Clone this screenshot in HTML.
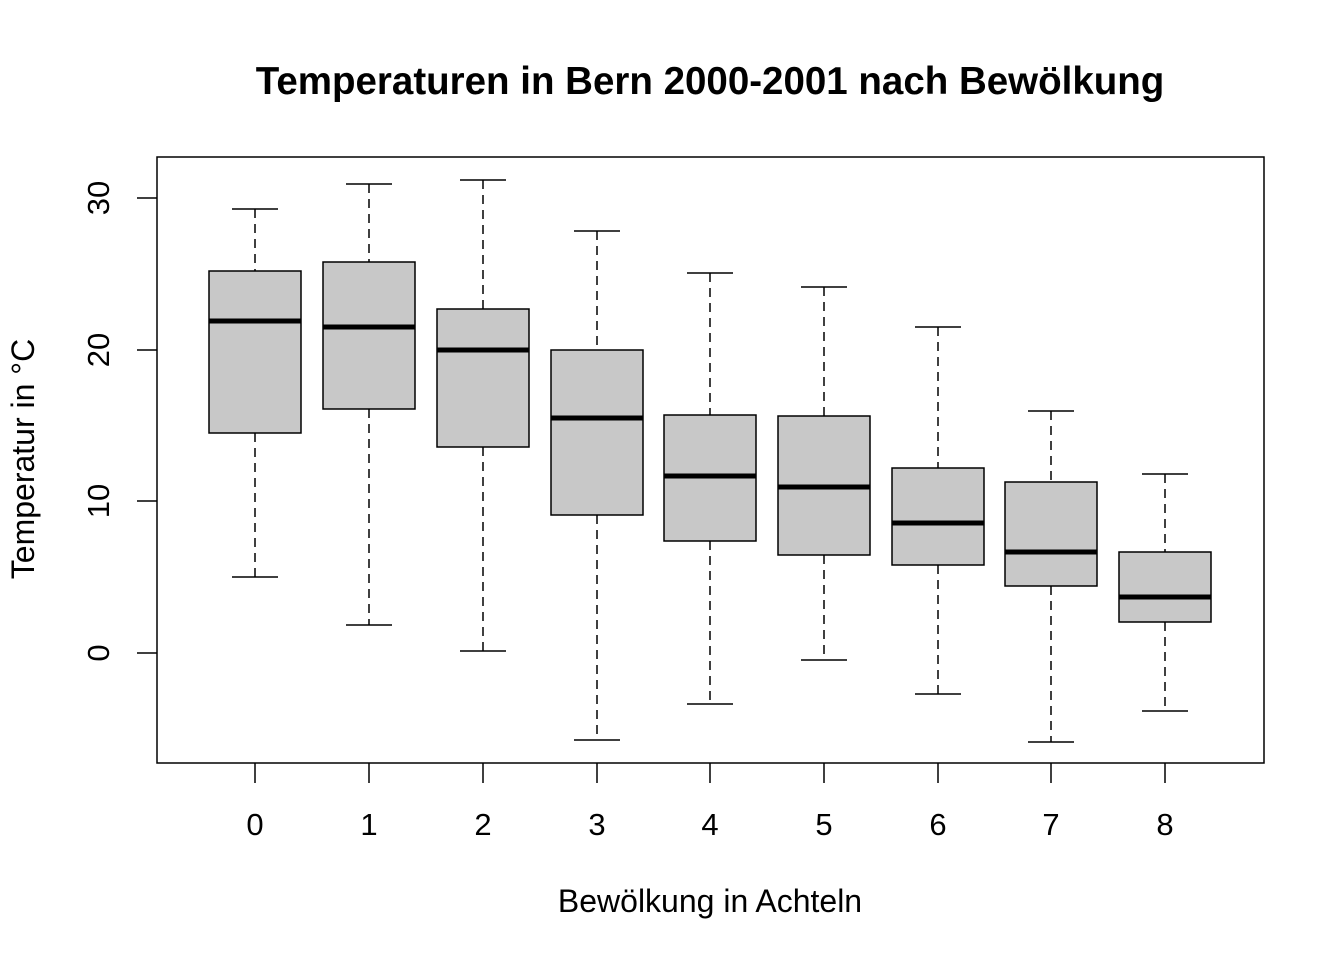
<!DOCTYPE html>
<html><head><meta charset="utf-8"><style>html,body{margin:0;padding:0;background:#fff}svg{display:block}</style></head>
<body>
<svg width="1344" height="960" xmlns="http://www.w3.org/2000/svg" font-family="Liberation Sans, Arial, sans-serif">
<rect width="1344" height="960" fill="#fff"/>
<text x="710" y="94" text-anchor="middle" font-size="38.5" font-weight="bold">Temperaturen in Bern 2000-2001 nach Bewölkung</text>
<rect x="157" y="157" width="1107" height="606" fill="none" stroke="#000" stroke-width="1.5"/>
<g stroke="#000" stroke-width="1.5">
<line x1="137" y1="198" x2="157" y2="198"/>
<line x1="137" y1="350" x2="157" y2="350"/>
<line x1="137" y1="501" x2="157" y2="501"/>
<line x1="137" y1="653" x2="157" y2="653"/>
<line x1="255" y1="763" x2="255" y2="783"/>
<line x1="369" y1="763" x2="369" y2="783"/>
<line x1="483" y1="763" x2="483" y2="783"/>
<line x1="597" y1="763" x2="597" y2="783"/>
<line x1="710" y1="763" x2="710" y2="783"/>
<line x1="824" y1="763" x2="824" y2="783"/>
<line x1="938" y1="763" x2="938" y2="783"/>
<line x1="1051" y1="763" x2="1051" y2="783"/>
<line x1="1165" y1="763" x2="1165" y2="783"/>
</g>
<g font-size="31" text-anchor="middle">
<text transform="translate(109,198) rotate(-90)">30</text>
<text transform="translate(109,350) rotate(-90)">20</text>
<text transform="translate(109,501) rotate(-90)">10</text>
<text transform="translate(109,653) rotate(-90)">0</text>
<text x="255" y="835">0</text><text x="369" y="835">1</text><text x="483" y="835">2</text>
<text x="597" y="835">3</text><text x="710" y="835">4</text><text x="824" y="835">5</text>
<text x="938" y="835">6</text><text x="1051" y="835">7</text><text x="1165" y="835">8</text>
</g>
<g font-size="32" text-anchor="middle">
<text transform="translate(34,459) rotate(-90)">Temperatur in °C</text>
<text x="710" y="912">Bewölkung in Achteln</text>
</g>
<g stroke="#000" stroke-width="1.5">
<g stroke-dasharray="9,6">
<line x1="255" y1="209" x2="255" y2="271"/><line x1="255" y1="433" x2="255" y2="577"/>
<line x1="369" y1="184" x2="369" y2="262"/><line x1="369" y1="409" x2="369" y2="625"/>
<line x1="483" y1="180" x2="483" y2="309"/><line x1="483" y1="447" x2="483" y2="651"/>
<line x1="597" y1="231" x2="597" y2="350"/><line x1="597" y1="515" x2="597" y2="740"/>
<line x1="710" y1="273" x2="710" y2="415"/><line x1="710" y1="541" x2="710" y2="704"/>
<line x1="824" y1="287" x2="824" y2="416"/><line x1="824" y1="555" x2="824" y2="660"/>
<line x1="938" y1="327" x2="938" y2="468"/><line x1="938" y1="565" x2="938" y2="694"/>
<line x1="1051" y1="411" x2="1051" y2="482"/><line x1="1051" y1="586" x2="1051" y2="742"/>
<line x1="1165" y1="474" x2="1165" y2="552"/><line x1="1165" y1="622" x2="1165" y2="711"/>
</g>
<line x1="232" y1="209" x2="278" y2="209"/><line x1="232" y1="577" x2="278" y2="577"/>
<line x1="346" y1="184" x2="392" y2="184"/><line x1="346" y1="625" x2="392" y2="625"/>
<line x1="460" y1="180" x2="506" y2="180"/><line x1="460" y1="651" x2="506" y2="651"/>
<line x1="574" y1="231" x2="620" y2="231"/><line x1="574" y1="740" x2="620" y2="740"/>
<line x1="687" y1="273" x2="733" y2="273"/><line x1="687" y1="704" x2="733" y2="704"/>
<line x1="801" y1="287" x2="847" y2="287"/><line x1="801" y1="660" x2="847" y2="660"/>
<line x1="915" y1="327" x2="961" y2="327"/><line x1="915" y1="694" x2="961" y2="694"/>
<line x1="1028" y1="411" x2="1074" y2="411"/><line x1="1028" y1="742" x2="1074" y2="742"/>
<line x1="1142" y1="474" x2="1188" y2="474"/><line x1="1142" y1="711" x2="1188" y2="711"/>
<g fill="#c8c8c8">
<rect x="209" y="271" width="92" height="162"/>
<rect x="323" y="262" width="92" height="147"/>
<rect x="437" y="309" width="92" height="138"/>
<rect x="551" y="350" width="92" height="165"/>
<rect x="664" y="415" width="92" height="126"/>
<rect x="778" y="416" width="92" height="139"/>
<rect x="892" y="468" width="92" height="97"/>
<rect x="1005" y="482" width="92" height="104"/>
<rect x="1119" y="552" width="92" height="70"/>
</g>
<g stroke-width="5">
<line x1="209" y1="321" x2="301" y2="321"/>
<line x1="323" y1="327" x2="415" y2="327"/>
<line x1="437" y1="350" x2="529" y2="350"/>
<line x1="551" y1="418" x2="643" y2="418"/>
<line x1="664" y1="476" x2="756" y2="476"/>
<line x1="778" y1="487" x2="870" y2="487"/>
<line x1="892" y1="523" x2="984" y2="523"/>
<line x1="1005" y1="552" x2="1097" y2="552"/>
<line x1="1119" y1="597" x2="1211" y2="597"/>
</g>
</g>
</svg>
</body></html>
